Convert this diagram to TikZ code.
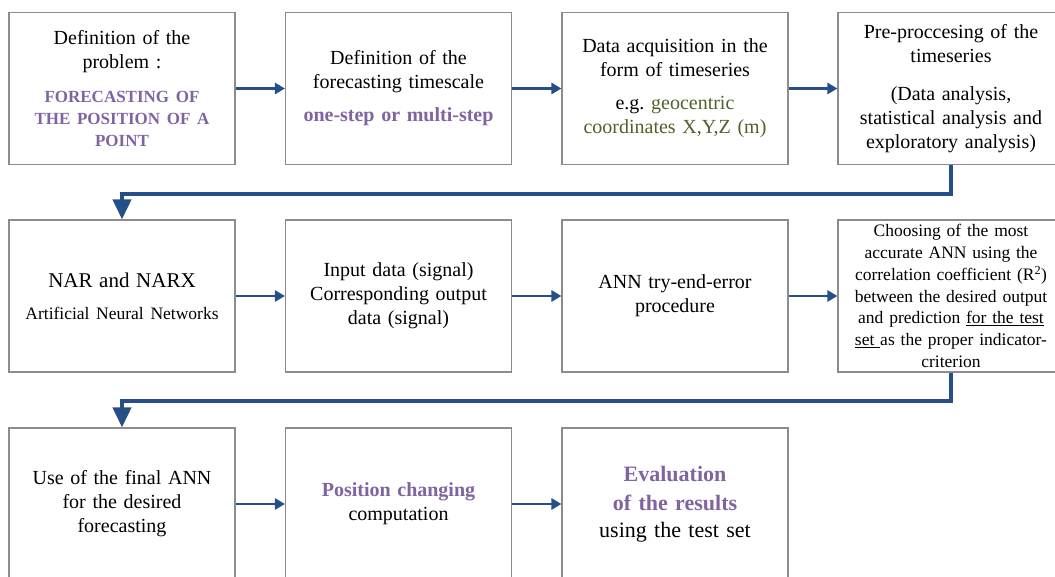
\documentclass[tikz,border=0pt]{standalone}
\usepackage{fontspec}
\setmainfont{Liberation Serif}
\usetikzlibrary{arrows.meta}
\definecolor{arrblue}{RGB}{38,79,137}
\definecolor{purp}{RGB}{128,100,162}
\definecolor{olivegreen}{RGB}{79,98,40}
\definecolor{boxgray}{RGB}{140,140,140}
\tikzset{
  box/.style={draw=boxgray, line width=1.1pt, fill=white, minimum width=226pt,
    minimum height=152pt, inner sep=0pt, align=center, text width=224pt,
    font=\fontsize{20}{24}\selectfont},
  flow/.style={draw=arrblue, line width=2.6pt, -{Triangle[length=10pt,width=11pt]}},
  back/.style={draw=arrblue, line width=4pt, -{Triangle[length=20pt,width=18pt]}},
}
\begin{document}
\begin{tikzpicture}[x=1pt,y=-1pt]
\useasboundingbox (0,0) rectangle (1055,576);
\clip (0,0) rectangle (1055,576);
% row 1
\node[box] (b1) at (122,88.5) {Definition of the\\ problem :\par\vspace{12pt}%
  {\fontsize{17}{22}\selectfont\bfseries\color{purp}FORECASTING OF\\ THE POSITION OF A\\ POINT\par}};
\node[box] (b2) at (398.5,88.5) {Definition of the\\ forecasting timescale\par\vspace{9pt}%
  {\bfseries\color{purp}one-step or multi-step\par}};
\node[box] (b3) at (675,88.5) {Data acquisition in the\\ form of timeseries\par\vspace{9pt}%
  {e.g.\ \textcolor{olivegreen}{geocentric}\\ \textcolor{olivegreen}{coordinates X,Y,Z (m)}\par}};
\node[box] (b4) at (951,88.5) {Pre-proccesing of the\\ timeseries\par\vspace{14pt}%
  {(Data analysis,\\ statistical analysis and\\ exploratory analysis)\par}};
% row 2
\node[box] (b5) at (122,296) {{\fontsize{21}{25}\selectfont NAR and NARX\par}\vspace{11pt}%
  {\fontsize{17.5}{21}\selectfont Artificial Neural Networks\par}};
\node[box] (b6) at (398.5,296) {Input data (signal)\\ Corresponding output\\ data (signal)};
\node[box] (b7) at (675,296) {ANN try-end-error\\ procedure};
\node[box, font=\fontsize{17.5}{21.7}\selectfont] (b8) at (951,296) {Choosing of the most\\ accurate ANN using the\\ correlation coefficient (R\textsuperscript{2})\\ between the desired output\\ and prediction \underline{for the test}\\ \underline{set\ }as the proper indicator-\\ criterion};
% row 3
\node[box] (b9) at (122,504) {Use of the final ANN\\ for the desired\\ forecasting};
\node[box] (b10) at (398.5,504) {{\bfseries\color{purp}Position changing}\\ computation};
\node[box, font=\fontsize{22}{27}\selectfont] (b11) at (675,504) {\vspace{2pt}{\bfseries\color{purp}Evaluation}\\ {\bfseries\color{purp}of the results}\\ using the test set};
% connectors
\draw[flow] (b1) -- (b2);
\draw[flow] (b2) -- (b3);
\draw[flow] (b3) -- (b4);
\draw[back] (b4.south) -- ++(0,29) -| (b5.north);
\draw[flow] (b5) -- (b6);
\draw[flow] (b6) -- (b7);
\draw[flow] (b7) -- (b8);
\draw[back] (b8.south) -- ++(0,28) -| (b9.north);
\draw[flow] (b9) -- (b10);
\draw[flow] (b10) -- (b11);
\end{tikzpicture}
\end{document}
